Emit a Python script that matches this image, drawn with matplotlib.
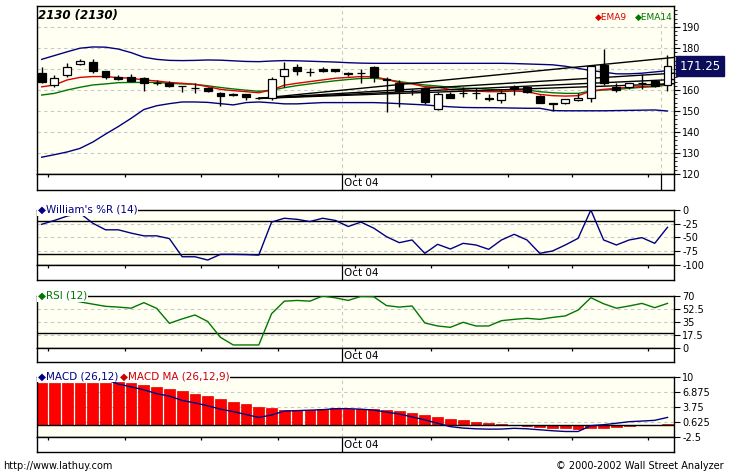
import numpy as np
import matplotlib
matplotlib.use("Agg")
import matplotlib.pyplot as plt

# ---- data (50 trading days) ----
opens = [168.2, 162.4, 167.1, 172.2, 173.2, 168.9, 166.4, 166.0, 165.6, 163.3,
         163.5, 162.0, 160.9, 160.9, 158.7, 158.0, 157.9, 156.1, 156.0, 166.8,
         171.1, 168.5, 169.8, 169.8, 168.3, 168.3, 171.1, 165.0, 163.2, 159.6,
         160.8, 151.0, 157.9, 158.7, 158.6, 156.0, 155.4, 161.3, 161.3, 157.1,
         153.6, 153.7, 155.2, 156.0, 172.0, 161.6, 161.6, 163.3, 164.2, 162.4]
highs = [171.1, 167.1, 172.7, 174.6, 174.6, 169.2, 167.1, 167.6, 166.4, 164.8,
         164.4, 162.1, 163.2, 161.6, 159.0, 158.7, 158.1, 156.5, 166.4, 173.2,
         172.4, 170.3, 171.1, 169.9, 168.7, 169.8, 171.4, 166.0, 164.8, 160.3,
         161.6, 158.9, 159.2, 161.6, 161.0, 158.1, 160.0, 162.4, 161.9, 157.4,
         153.8, 155.9, 158.4, 171.9, 179.5, 163.2, 163.5, 167.6, 164.4, 176.7]
lows = [163.2, 161.6, 166.0, 171.9, 168.3, 165.4, 164.8, 163.6, 159.7, 162.4,
        161.6, 159.2, 158.4, 158.9, 152.4, 157.1, 155.2, 155.6, 155.2, 161.6,
        167.1, 166.8, 168.7, 168.8, 166.7, 163.5, 164.0, 149.7, 152.1, 157.6,
        153.3, 150.5, 156.0, 156.8, 155.7, 154.8, 154.0, 157.6, 158.7, 153.7,
        150.2, 153.4, 154.9, 154.4, 162.4, 159.2, 160.4, 160.6, 161.6, 159.7]
closes = [164.0, 165.6, 171.1, 173.8, 169.2, 166.0, 165.2, 164.4, 163.2, 163.1,
          161.9, 161.9, 160.8, 159.5, 157.1, 157.7, 156.5, 156.0, 165.1, 169.8,
          169.2, 168.4, 169.2, 168.9, 167.6, 168.2, 166.4, 164.6, 159.5, 159.4,
          154.4, 157.9, 156.3, 158.6, 158.5, 155.9, 158.4, 160.5, 159.2, 154.0,
          153.5, 155.6, 156.3, 171.4, 163.3, 160.0, 163.2, 163.1, 161.9, 171.25]

ema9 = [161.5, 162.4, 164.8, 166.0, 166.4, 166.4, 165.9, 165.6, 164.8, 164.3,
        163.6, 163.2, 162.7, 161.6, 160.3, 159.7, 159.2, 158.7, 160.0, 162.3,
        163.2, 164.0, 164.8, 165.6, 166.0, 166.4, 166.3, 165.1, 163.5, 162.9,
        161.6, 161.3, 160.3, 160.0, 159.5, 159.2, 159.2, 159.5, 159.2, 157.9,
        157.3, 157.1, 157.3, 159.5, 160.3, 160.8, 161.3, 161.6, 161.9, 163.2]
ema14 = [157.6, 158.4, 160.0, 161.3, 162.4, 162.9, 163.5, 163.6, 163.6, 163.6,
         163.2, 162.9, 162.7, 162.0, 161.2, 160.5, 159.9, 159.4, 159.9, 161.1,
         162.1, 162.9, 163.7, 164.4, 165.0, 165.5, 165.6, 165.0, 164.0, 163.2,
         162.4, 161.9, 161.3, 160.8, 160.8, 160.3, 160.0, 160.0, 160.0, 159.2,
         158.7, 158.4, 158.4, 159.5, 160.0, 160.3, 160.8, 161.3, 161.6, 162.4]
bb_upper = [174.6, 176.4, 178.2, 179.9, 180.5, 180.4, 179.5, 177.8, 175.6, 174.6,
            174.1, 174.0, 174.1, 174.3, 174.2, 173.9, 173.6, 173.5, 173.8, 174.0,
            173.9, 173.7, 173.5, 173.3, 173.0, 172.8, 172.7, 172.7, 172.7, 172.7,
            172.7, 172.7, 172.7, 172.7, 172.7, 172.7, 172.7, 172.6, 172.4, 172.2,
            172.0, 171.3, 170.3, 169.3, 168.5, 167.7, 167.7, 168.0, 168.6, 169.2]
bb_lower = [128.0, 129.2, 130.5, 132.2, 135.2, 139.0, 142.6, 146.5, 150.7, 152.5,
            153.5, 154.3, 154.3, 154.1, 153.5, 152.9, 154.0, 154.3, 153.9, 153.4,
            153.4, 153.7, 154.0, 154.0, 154.0, 154.0, 154.0, 153.8, 153.5, 153.2,
            152.9, 152.4, 152.0, 151.7, 151.6, 151.6, 151.5, 151.4, 151.3, 151.3,
            150.2, 150.1, 150.1, 150.1, 150.1, 150.2, 150.3, 150.4, 150.5, 150.0]

# fan of trend lines drawn by the user
fan_start = (17, 156.0)
fan_end_x = 49.5
fan_end_prices = [175.5, 168.0, 165.0, 163.0]

williams = [-26, -19, -11, -6, -24, -36, -36, -42, -47, -47,
            -52, -85, -85, -91, -80.6, -80.6, -81, -82, -22, -15,
            -17, -21, -15, -19, -30, -22, -33, -48.5, -59.4, -54.5,
            -78.8, -62.4, -70.9, -60.6, -63.6, -71.5, -54.5, -44.2, -54.5, -78.8,
            -74.5, -63.6, -51.5, 0, -54.5, -63.6, -54.5, -50.3, -60.6, -31.5]
rsi = [66, 68, 66, 62, 59, 56, 55, 53.5, 61, 53.3,
       33, 39, 44.3, 35.5, 14, 3.7, 3.7, 3.7, 46, 63,
       64, 63, 70, 67.5, 64, 69.5, 69, 57, 55, 56.5,
       33.5, 29.4, 27.6, 34.4, 29.4, 29.4, 36.6, 38.4, 39.8, 38.4,
       41, 43, 51, 67.7, 59.5, 53.5, 56.5, 60, 54.2, 60]
macd = [11.0, 11.2, 11.3, 11.2, 10.6, 9.4, 8.5, 7.9, 7.3, 6.5,
        6.0, 5.1, 4.6, 4.0, 3.3, 2.8, 2.2, 1.6, 2.1, 2.9,
        3.0, 3.1, 3.2, 3.4, 3.4, 3.3, 3.1, 2.7, 2.3, 1.7,
        1.1, 0.4, -0.3, -0.6, -0.75, -0.82, -0.8, -0.65, -0.75, -0.95,
        -1.15, -1.3, -1.3, -0.1, 0.1, 0.4, 0.72, 0.85, 1.0, 1.6]
macd_ma = [8.6, 8.6, 8.6, 8.6, 8.6, 8.6, 8.9, 8.6, 8.3, 7.9,
           7.45, 7.05, 6.5, 6.1, 5.4, 4.8, 4.45, 3.8, 3.45, 3.15,
           3.15, 3.05, 3.35, 3.45, 3.3, 3.3, 3.35, 3.15, 2.9, 2.6,
           2.1, 1.7, 1.3, 1.05, 0.75, 0.45, 0.15, 0.0, -0.1, -0.3,
           -0.5, -0.5, -0.8, -0.65, -0.5, -0.3, -0.1, 0.0, 0.0, 0.27]

week_ticks = [0.5, 6.5, 12.5, 18.5, 24.5, 30.5, 36.5, 41.5, 47.5]
month_lines = [23.5, 48.5]
month_labels = {23.5: "Oct 04"}

price_ticks = [120, 130, 140, 150, 160, 170, 180, 190]
wr_ticks = [0, -25, -50, -75, -100]
rsi_ticks = [0, 17.5, 35, 52.5, 70]
macd_ticks = [-2.5, 0.625, 3.75, 6.875, 10]

# ---- layout (pixel boxes) ----
W, H = 729, 474
plt.rcParams['font.family'] = ['DejaVu Sans']
plt.rcParams['axes.unicode_minus'] = False
fig = plt.figure(figsize=(W / 100, H / 100), dpi=100, facecolor="white")

def box(x0, y0, x1, y1):
    return [x0 / W, 1 - y1 / H, (x1 - x0) / W, (y1 - y0) / H]

L, R = 36.7, 674
xlim = (-0.39, 49.51)
bg = "#fffff2"
grid_c = "#c8c8c8"
navy = "#000080"
red = "#dd0000"
green = "#007700"
x = np.arange(len(closes))

def panel(top, bottom, strip_bottom, ticks, ylim, hide=(), months=month_lines[:1]):
    ax = fig.add_axes(box(L, top, R, bottom))
    ax.set_facecolor(bg)
    ax.set_xlim(*xlim)
    ax.set_ylim(*ylim)
    ax.set_xticks([])
    ax.set_yticks(ticks)
    ax.set_yticklabels(["" if t in hide else f"{t:g}" for t in ticks])
    ax.tick_params(axis="y", which="both", direction="out", left=False, right=True,
                   labelleft=False, labelright=True, length=4, width=0.8,
                   pad=2, labelsize=7)
    for t in ticks:
        if ylim[0] < t < ylim[1]:
            ax.axhline(t, color=grid_c, lw=0.8, ls=(0, (3, 3)), zorder=0)
    for m in months:
        ax.axvline(m, color=grid_c, lw=0.8, ls=(0, (3, 3)), zorder=0)
    for s in ax.spines.values():
        s.set_color("black")
        s.set_linewidth(1)

    st = fig.add_axes(box(L, bottom, R, strip_bottom))
    st.set_xlim(*xlim)
    st.set_ylim(0, 1)
    st.set_xticks([])
    st.set_yticks([])
    st.set_facecolor("white")
    st.vlines(week_ticks, 0.8, 1.0, color="black", lw=0.9)
    st.vlines(months, 0.0, 1.0, color="black", lw=0.9)
    for m, lab in month_labels.items():
        st.text(m + 0.2, 0.45, lab, fontsize=7.5, va="center", ha="left")
    for s in st.spines.values():
        s.set_linewidth(1)
    return ax

def legend_on_frame(ax, x_px, text, color):
    ax.text((x_px - L) / (R - L), 1.0, text, transform=ax.transAxes, fontsize=7.5,
            color=color, va="center", ha="left", zorder=10, clip_on=False,
            bbox=dict(boxstyle="square,pad=0.05", fc="white", ec="none"))

# ---- main price panel ----
# the 170 label sits under the last-price box in the original
ax = panel(6, 174, 190, price_ticks, (120, 200), hide=(170,), months=month_lines)
ax.set_yticks(np.arange(120, 200, 2), minor=True)
ax.tick_params(axis="y", which="minor", length=2, width=0.6)

ax.plot(x, bb_upper, color=navy, lw=1, zorder=2)
ax.plot(x, bb_lower, color=navy, lw=1, zorder=2)
ax.plot(x, ema14, color=green, lw=1, zorder=2)
ax.plot(x, ema9, color=red, lw=1, zorder=2)
for p in fan_end_prices:
    ax.plot([fan_start[0], fan_end_x], [fan_start[1], p], color="black", lw=1, zorder=3)

o = np.array(opens); c = np.array(closes)
ax.vlines(x, lows, highs, color="black", lw=1, zorder=4)
up = c >= o
body_low = np.minimum(o, c)
body_h = np.maximum(np.abs(c - o), 0.05)
ax.bar(x[up], body_h[up], bottom=body_low[up], width=0.62, color="white",
       edgecolor="black", lw=0.9, zorder=5)
ax.bar(x[~up], body_h[~up], bottom=body_low[~up], width=0.62, color="black",
       edgecolor="black", lw=0.9, zorder=5)

ax.text(0.002, 0.985, "2130 (2130)", transform=ax.transAxes, fontsize=8.5,
        fontweight="bold", fontstyle="italic", va="top", ha="left")
ax.text((595 - L) / (R - L), 0.93, "\u25c6EMA9", transform=ax.transAxes,
        fontsize=6.5, color=red, va="center", ha="left")
ax.text((635 - L) / (R - L), 0.93, "\u25c6EMA14", transform=ax.transAxes,
        fontsize=6.5, color=green, va="center", ha="left")
ax.annotate(f"{closes[-1]:.2f}", xy=(1.0, closes[-1]), xycoords=("axes fraction", "data"),
            xytext=(4, 0), textcoords="offset points", fontsize=8.5, color="white",
            va="center", ha="left", zorder=20, annotation_clip=False,
            bbox=dict(boxstyle="square,pad=0.3", fc="#0c0c5c", ec="#0c0c5c"))

# ---- Williams %R ----
ax_w = panel(210, 265, 280, wr_ticks, (-100, 0))
ax_w.axhline(-20, color="black", lw=1)
ax_w.axhline(-80, color="black", lw=1)
ax_w.plot(x, williams, color=navy, lw=1, zorder=3)
legend_on_frame(ax_w, 38, "\u25c6William's %R (14)", navy)

# ---- RSI ----
ax_r = panel(296, 347.7, 362, rsi_ticks, (0, 70))
ax_r.axhline(20, color="black", lw=1)
ax_r.plot(x, rsi, color=green, lw=1, zorder=3)
legend_on_frame(ax_r, 38, "\u25c6RSI (12)", green)

# ---- MACD ----
ax_m = panel(376.7, 437.3, 452, macd_ticks, (-2.5, 10))
ax_m.bar(x, macd_ma, width=0.84, color="#ff0000", edgecolor="#e00000", lw=0.5, zorder=2)
ax_m.axhline(0, color="black", lw=1, zorder=3)
ax_m.plot(x, macd, color=navy, lw=1, zorder=4)
legend_on_frame(ax_m, 38, "\u25c6MACD (26,12)", navy)
legend_on_frame(ax_m, 120, "\u25c6MACD MA (26,12,9)", "#cc0000")

# ---- footer ----
fig.text(3 / W, 1 - 466 / H, "http://www.lathuy.com", fontsize=7, va="center", ha="left")
fig.text(724 / W, 1 - 466 / H, "\u00a9 2000-2002 Wall Street Analyzer", fontsize=7,
         va="center", ha="right")

fig.savefig("out.png", dpi=100, facecolor="white")
